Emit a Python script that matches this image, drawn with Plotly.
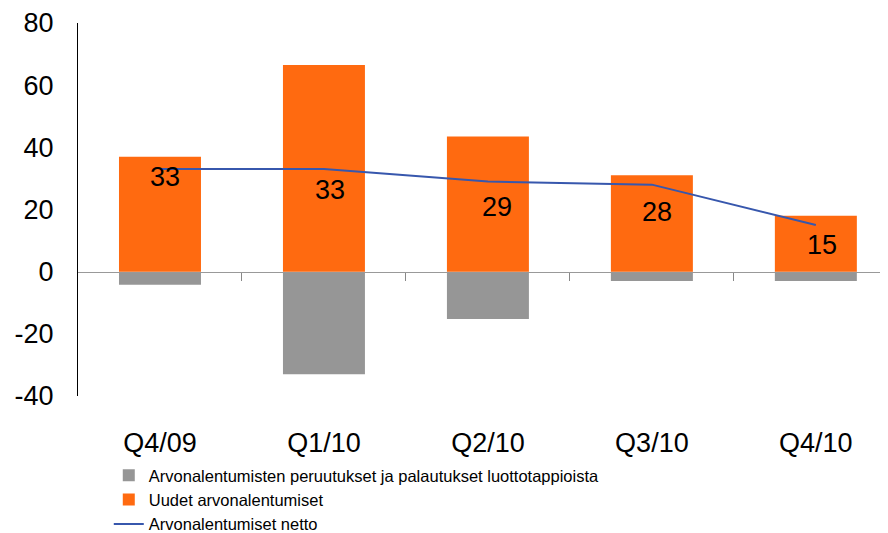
import plotly.graph_objects as go

categories = ["Q4/09", "Q1/10", "Q2/10", "Q3/10", "Q4/10"]
reversals = [-4.2, -33, -15.2, -3, -3]
new_impairments = [37, 66.5, 43.5, 31, 18]
net = [33, 33, 29, 28, 15]
y_ticks = [-40, -20, 0, 20, 40, 60, 80]
y_tick_text = ["-40", "-20", "0", "20", "40", "60", "80"]

names = [
    "Arvonalentumisten peruutukset ja palautukset luottotappioista",
    "Uudet arvonalentumiset",
    "Arvonalentumiset netto",
]

FONT = "Liberation Sans, Arial, sans-serif"
x = list(range(len(categories)))

# label offsets (pixels) for data labels, style only
label_dx = [5, 6, 9, 5, 6]
label_dy = [-8, -21, -25, -27, -20]

fig = go.Figure()
fig.add_trace(go.Bar(x=x, y=reversals, name=names[0], marker_color="#969696",
                     width=0.5, marker_line_width=0))
fig.add_trace(go.Bar(x=x, y=new_impairments, name=names[1], marker_color="#FF6A10",
                     width=0.5, marker_line_width=0))
fig.add_trace(go.Scatter(x=x, y=net, name=names[2], mode="lines",
                         line=dict(color="#3757AD", width=2)))

for i, v in enumerate(net):
    fig.add_annotation(x=x[i], y=v, text=str(v), showarrow=False,
                       xshift=label_dx[i], yshift=label_dy[i],
                       font=dict(family=FONT, size=27, color="black"))

xr = [-0.5, 4.44]
yr = [-40, 80]
zero_pos = (0 - yr[0]) / (yr[1] - yr[0])

# page body has an 8px margin, so the figure is 8px smaller than the window
fig.update_layout(
    width=880, height=525,
    margin=dict(l=70, r=0, t=15, b=137, pad=0, autoexpand=False),
    paper_bgcolor="white", plot_bgcolor="white",
    barmode="relative", bargap=0.5,
    font=dict(family=FONT, color="black"),
    showlegend=True,
    legend=dict(x=0.038, y=-0.166, xanchor="left", yanchor="top",
                font=dict(family=FONT, size=16.5, color="black"),
                tracegroupgap=0, bgcolor="rgba(0,0,0,0)",
                itemwidth=30),
    xaxis=dict(range=xr, tickmode="array", tickvals=x, ticktext=categories,
               showline=False, showgrid=False, zeroline=False, ticks="",
               automargin=False,
               tickfont=dict(family=FONT, size=27, color="black"),
               ticklabelstandoff=28),
    xaxis2=dict(range=xr, overlaying="x", anchor="free", position=zero_pos,
                tickmode="array", tickvals=[0.5, 1.5, 2.5, 3.5],
                ticks="outside", ticklen=8, tickwidth=1, tickcolor="#888888",
                showline=True, linecolor="#999999", linewidth=1,
                automargin=False,
                showticklabels=False, showgrid=False, zeroline=False),
    yaxis=dict(range=yr, tickmode="array", tickvals=y_ticks, ticktext=y_tick_text,
               showline=True, linecolor="black", linewidth=1,
               showgrid=False, zeroline=False, ticks="",
               automargin=False,
               ticklabelstandoff=18,
               tickfont=dict(family=FONT, size=27, color="black")),
)
fig.add_trace(go.Scatter(x=[None], y=[None], xaxis="x2", showlegend=False,
                         hoverinfo="skip"))

fig.write_html("out.html")
